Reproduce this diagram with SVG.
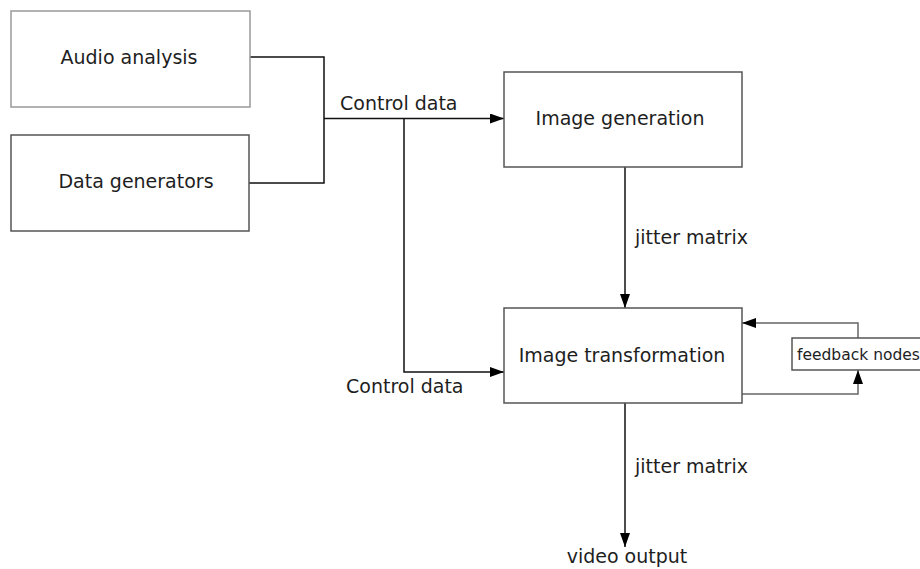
<svg xmlns="http://www.w3.org/2000/svg" width="920" height="569" viewBox="0 0 920 569">
<defs>
<style>
.box{fill:#fff;stroke:#555;stroke-width:1.5}
.lbl{font-family:"DejaVu Sans","Liberation Sans",sans-serif;font-size:19px;fill:#1e1e1e}
.small{font-size:15.5px}
.wire{fill:none;stroke:#111;stroke-width:1.5}
.gwire{fill:none;stroke:#666;stroke-width:1.5}
</style>
<marker id="arr" viewBox="0 0 14 10" refX="14" refY="5" markerWidth="14" markerHeight="10" markerUnits="userSpaceOnUse" orient="auto">
<path d="M0,0 L14,5 L0,10 z" fill="#000"/>
</marker>
</defs>
<rect width="920" height="569" fill="#fff"/>
<g id="connectors">
<path class="wire" d="M250,57 H324 V183 H247"/>
<path class="wire" d="M324,118.5 H504" marker-end="url(#arr)"/>
<path class="wire" d="M404,118.5 V372 H504" marker-end="url(#arr)"/>
<path class="wire" d="M625,167 V308" marker-end="url(#arr)"/>
<path class="wire" d="M625,403 V547" marker-end="url(#arr)"/>
<path class="gwire" d="M858,338 V323 H742" marker-end="url(#arr)"/>
<path class="gwire" d="M742,394 H858 V370" marker-end="url(#arr)"/>
<text class="lbl" x="340" y="110">Control data</text>
<text class="lbl" x="346" y="393">Control data</text>
<text class="lbl" x="635" y="244">jitter matrix</text>
<text class="lbl" x="635" y="473">jitter matrix</text>
<text class="lbl" x="627" y="563" text-anchor="middle">video output</text>
</g>
<g id="audio-analysis">
<rect class="box" x="11" y="11" width="239" height="96" style="stroke:#999"/>
<text class="lbl" x="129" y="64" text-anchor="middle">Audio analysis</text>
</g>
<g id="data-generators">
<rect class="box" x="11" y="135" width="238" height="96"/>
<text class="lbl" x="136" y="188" text-anchor="middle">Data generators</text>
</g>
<g id="image-generation">
<rect class="box" x="504" y="72" width="238" height="95"/>
<text class="lbl" x="620" y="125" text-anchor="middle">Image generation</text>
</g>
<g id="image-transformation">
<rect class="box" x="504" y="308" width="238" height="95"/>
<text class="lbl" x="622" y="362" text-anchor="middle">Image transformation</text>
</g>
<g id="feedback-nodes">
<rect class="box" x="792" y="338" width="135" height="32"/>
<text class="lbl small" x="797" y="360">feedback nodes</text>
</g>
</svg>
